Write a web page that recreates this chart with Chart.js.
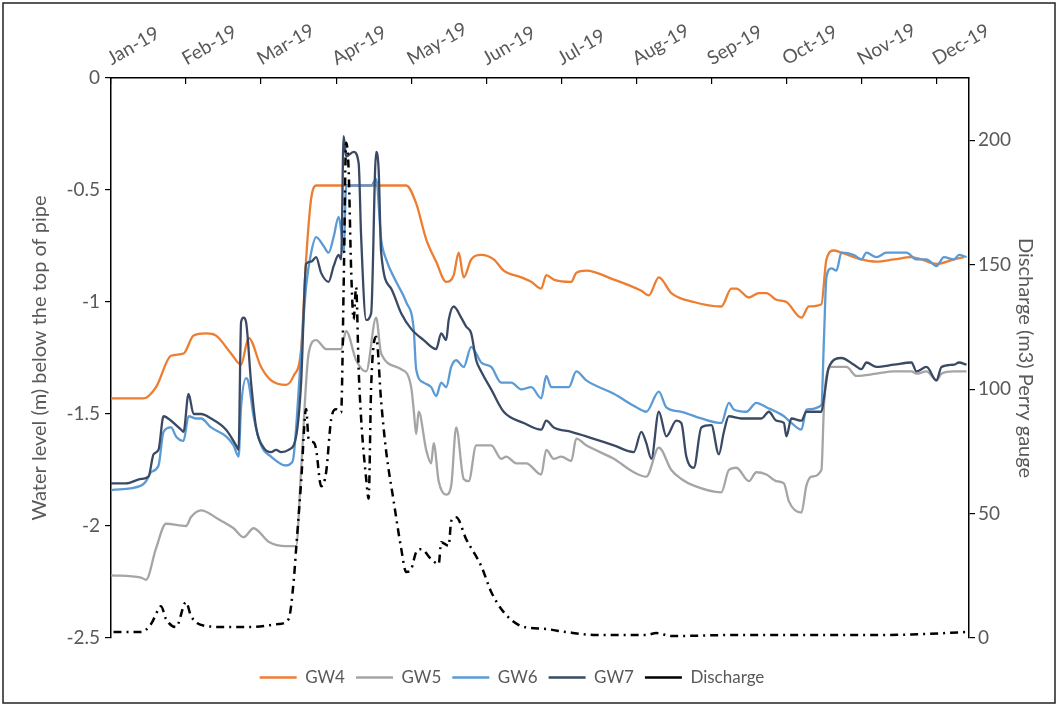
<!DOCTYPE html>
<html>
<head>
<meta charset="utf-8">
<script src="https://cdn.jsdelivr.net/npm/chart.js@4.4.1/dist/chart.umd.min.js"></script>
<style>
  html, body { margin: 0; padding: 0; background: #ffffff; }
  #wrap { position: relative; width: 1058px; height: 706px; }
</style>
</head>
<body>
<div id="wrap"><canvas id="grafico"></canvas></div>
<script>
// Eje X: días desde el 1 de enero, una marca cada 30 días
const months = ["Jan-19", "Feb-19", "Mar-19", "Apr-19", "May-19", "Jun-19",
  "Jul-19", "Aug-19", "Sep-19", "Oct-19", "Nov-19", "Dec-19"];

// [día, nivel (m)]
const gw4 = [[0,-1.43],[13,-1.43],[18,-1.38],[24,-1.24],[29,-1.23],[33,-1.15],[38,-1.14],[42,-1.15],[48,-1.23],[52,-1.28],[55,-1.16],[60,-1.29],[64,-1.35],[70,-1.37],[73,-1.33],[76,-1.21],[78,-0.81],[80,-0.54],[82,-0.48],[118,-0.48],[122,-0.56],[126,-0.72],[130,-0.82],[134,-0.91],[137,-0.88],[139,-0.78],[141,-0.89],[144,-0.81],[148,-0.79],[153,-0.81],[157,-0.86],[164,-0.89],[168,-0.91],[172,-0.94],[174,-0.88],[177,-0.90],[184,-0.91],[186,-0.87],[190,-0.86],[201,-0.90],[212,-0.95],[215,-0.97],[219,-0.89],[224,-0.96],[233,-1.00],[244,-1.02],[248,-0.94],[250,-0.94],[255,-0.98],[259,-0.96],[262,-0.96],[266,-0.99],[270,-1.00],[276,-1.07],[279,-1.02],[284,-1.01],[286,-0.81],[289,-0.77],[292,-0.78],[300,-0.81],[306,-0.82],[313,-0.81],[320,-0.80],[324,-0.81],[330,-0.83],[337,-0.81],[341,-0.80]];

const gw5 = [[0,-2.22],[12,-2.23],[14,-2.24],[18,-2.10],[22,-1.99],[30,-2.00],[32,-1.96],[36,-1.93],[43,-1.97],[49,-2.01],[53,-2.05],[57,-2.01],[63,-2.07],[70,-2.09],[74,-2.09],[76,-1.75],[79,-1.23],[82,-1.17],[86,-1.21],[92,-1.21],[94,-1.13],[98,-1.26],[102,-1.31],[106,-1.07],[108,-1.23],[116,-1.30],[120,-1.38],[121,-1.48],[122,-1.59],[123,-1.49],[126,-1.66],[128,-1.72],[129,-1.63],[131,-1.80],[134,-1.86],[136,-1.82],[138,-1.56],[141,-1.79],[143,-1.80],[146,-1.64],[152,-1.64],[156,-1.70],[158,-1.69],[162,-1.72],[166,-1.72],[172,-1.77],[174,-1.66],[177,-1.70],[180,-1.69],[184,-1.71],[186,-1.61],[190,-1.64],[201,-1.70],[209,-1.76],[214,-1.78],[219,-1.65],[224,-1.75],[228,-1.79],[233,-1.82],[244,-1.85],[247,-1.75],[250,-1.74],[255,-1.80],[258,-1.76],[262,-1.77],[266,-1.80],[269,-1.81],[271,-1.89],[276,-1.94],[278,-1.82],[280,-1.78],[284,-1.75],[285,-1.47],[286,-1.33],[288,-1.29],[294,-1.29],[298,-1.33],[306,-1.32],[313,-1.31],[320,-1.31],[322,-1.32],[326,-1.31],[330,-1.35],[332,-1.32],[337,-1.31],[342,-1.31]];

const gw6 = [[0,-1.84],[12,-1.82],[14,-1.80],[16,-1.76],[19,-1.73],[21,-1.58],[24,-1.56],[26,-1.60],[29,-1.62],[31,-1.51],[34,-1.52],[36,-1.52],[40,-1.56],[46,-1.60],[49,-1.64],[51,-1.69],[52,-1.47],[54,-1.34],[55,-1.36],[57,-1.51],[60,-1.64],[64,-1.69],[70,-1.73],[72,-1.72],[73,-1.69],[76,-1.23],[78,-0.93],[80,-0.78],[82,-0.71],[85,-0.75],[87,-0.78],[89,-0.71],[91,-0.62],[92,-0.68],[93,-0.78],[94,-0.48],[104,-0.48],[106,-0.45],[108,-0.72],[110,-0.81],[114,-0.91],[118,-1.00],[121,-1.12],[122,-1.30],[125,-1.36],[128,-1.38],[130,-1.42],[132,-1.36],[134,-1.38],[136,-1.29],[138,-1.26],[141,-1.29],[144,-1.20],[146,-1.23],[148,-1.27],[152,-1.29],[156,-1.36],[160,-1.36],[164,-1.39],[168,-1.38],[172,-1.43],[174,-1.33],[176,-1.38],[180,-1.38],[183,-1.38],[186,-1.31],[190,-1.35],[201,-1.41],[210,-1.47],[214,-1.49],[219,-1.40],[222,-1.47],[228,-1.49],[236,-1.52],[244,-1.54],[247,-1.45],[249,-1.48],[254,-1.49],[258,-1.45],[262,-1.47],[269,-1.51],[272,-1.54],[276,-1.57],[278,-1.48],[284,-1.46],[285,-1.17],[286,-0.89],[288,-0.85],[290,-0.86],[292,-0.78],[297,-0.79],[300,-0.81],[302,-0.78],[306,-0.80],[310,-0.78],[318,-0.78],[322,-0.81],[326,-0.81],[330,-0.84],[333,-0.80],[337,-0.81],[339,-0.79],[342,-0.80]];

const gw7 = [[0,-1.81],[6,-1.81],[12,-1.79],[15,-1.78],[17,-1.68],[19,-1.66],[21,-1.51],[24,-1.53],[28,-1.57],[29,-1.58],[31,-1.41],[33,-1.50],[36,-1.50],[40,-1.52],[46,-1.57],[50,-1.64],[51,-1.66],[52,-1.09],[53,-1.07],[54,-1.09],[56,-1.36],[58,-1.56],[61,-1.65],[64,-1.67],[66,-1.66],[68,-1.67],[71,-1.66],[74,-1.60],[76,-1.36],[78,-0.83],[80,-0.82],[82,-0.80],[84,-0.87],[87,-0.91],[89,-0.84],[91,-0.79],[92,-0.81],[93,-0.26],[94,-0.35],[97,-0.33],[99,-0.38],[100,-0.71],[102,-1.08],[104,-1.05],[106,-0.33],[107,-0.41],[108,-0.78],[112,-0.94],[116,-1.05],[120,-1.12],[125,-1.17],[130,-1.21],[132,-1.14],[134,-1.17],[135,-1.08],[137,-1.02],[140,-1.07],[142,-1.11],[144,-1.14],[146,-1.26],[148,-1.31],[152,-1.39],[157,-1.49],[165,-1.54],[172,-1.57],[174,-1.53],[177,-1.56],[184,-1.58],[190,-1.60],[201,-1.64],[209,-1.67],[212,-1.58],[214,-1.63],[216,-1.70],[219,-1.49],[222,-1.60],[226,-1.53],[228,-1.54],[230,-1.69],[233,-1.74],[236,-1.56],[240,-1.55],[243,-1.68],[245,-1.58],[247,-1.51],[252,-1.52],[256,-1.52],[260,-1.52],[263,-1.49],[266,-1.53],[269,-1.54],[270,-1.60],[272,-1.52],[276,-1.53],[278,-1.49],[284,-1.49],[285,-1.43],[287,-1.29],[292,-1.25],[297,-1.28],[300,-1.30],[302,-1.27],[306,-1.29],[313,-1.28],[320,-1.27],[322,-1.31],[326,-1.29],[330,-1.35],[332,-1.29],[337,-1.28],[339,-1.27],[342,-1.28]];

// [día, caudal (m3)] en el eje derecho
const discharge = [[1,2.4],[12,2.4],[16,5.6],[19,11.6],[20,12.8],[22,7.6],[26,4.4],[30,14.4],[32,8.8],[38,4.8],[47,4.4],[56,4.4],[67,5.6],[71,7.6],[73,22.5],[74,35.7],[76,62.6],[78,92],[79,80],[81,78.6],[82,75.8],[84,61],[86,66.6],[88,87.8],[90,91.9],[92,90.6],[93,141],[94,199],[95,188],[96,148],[97,128],[98,141],[99,108],[100,88],[102,64],[103,56],[104,101],[106,121],[108,95],[110,75],[113,55],[116,36],[118,26.5],[120,27.7],[122,34.5],[124,35.7],[128,31.7],[131,29.7],[132,38.5],[135,37],[136,46.9],[138,48.5],[142,39.7],[148,28.9],[152,18.5],[157,10.4],[164,4.8],[174,3.6],[182,2.4],[194,1.2],[214,1.2],[218,2],[224,0.8],[250,1.2],[280,1.2],[300,1.2],[320,1.4],[342,2.4]];

const toPoints = (serie) => serie.map(([x, y]) => ({ x, y }));

const GRIS = "#595959";
const fuente = { family: "Lato", size: 19 };
const fuenteTitulo = { family: "Lato", size: 20 };

// Marco exterior y ajuste horizontal de la leyenda
const marco = {
  id: "marco",
  afterLayout(chart) {
    chart.legend.left -= 17;
    chart.legend.right -= 17;
  },
  afterDraw(chart) {
    const c = chart.ctx;
    c.save();
    c.strokeStyle = "#222";
    c.lineWidth = 1.5;
    c.strokeRect(3, 3, chart.width - 6, chart.height - 6);
    c.restore();
  },
};

function linea(label, serie, color, order, extra = {}) {
  return Object.assign({
    label,
    data: toPoints(serie),
    borderColor: color,
    backgroundColor: color,
    borderWidth: 2.3,
    pointRadius: 0,
    cubicInterpolationMode: "monotone",
    yAxisID: "y",
    order,
  }, extra);
}

new Chart(document.getElementById("grafico"), {
  type: "line",
  data: {
    datasets: [
      linea("GW4", gw4, "#ED7D31", 4),
      linea("GW5", gw5, "#A5A5A5", 3),
      linea("GW6", gw6, "#5B9BD5", 2),
      linea("GW7", gw7, "#3A4A64", 1),
      linea("Discharge", discharge, "#000000", 0, {
        yAxisID: "y1",
        borderWidth: 2.5,
        borderDash: [8, 5, 2, 5],
      }),
    ],
  },
  options: {
    responsive: true,
    maintainAspectRatio: false,
    animation: false,
    devicePixelRatio: 1,
    layout: { padding: { bottom: 10 } },
    plugins: {
      tooltip: { enabled: false },
      legend: {
        position: "bottom",
        title: { display: true, text: "", font: { size: 10 }, padding: { top: 8, bottom: 0 } },
        labels: {
          usePointStyle: true,
          pointStyle: "line",
          pointStyleWidth: 37,
          padding: 11,
          color: GRIS,
          font: { family: "Lato", size: 17 },
          sort: (a, b) => a.datasetIndex - b.datasetIndex,
        },
      },
    },
    scales: {
      x: {
        type: "linear",
        position: "top",
        min: 0,
        max: 343,
        afterFit: (s) => { s.height = 78; },
        grid: { drawOnChartArea: false, tickLength: -6, color: "#000", lineWidth: 1.2 },
        border: { color: "#000", width: 1.5 },
        ticks: {
          stepSize: 30,
          includeBounds: false,
          autoSkip: false,
          minRotation: 30,
          maxRotation: 30,
          padding: 14,
          labelOffset: 9,
          color: GRIS,
          font: fuente,
          callback: (v) => months[Math.round(v / 30)],
        },
      },
      y: {
        position: "left",
        min: -2.5,
        max: 0,
        afterFit: (s) => { s.width = 111; },
        grid: { drawOnChartArea: false, tickLength: 6, color: "#000", lineWidth: 1.2 },
        border: { color: "#000", width: 1.5 },
        ticks: { stepSize: 0.5, padding: 5, color: GRIS, font: fuente, callback: (v) => String(v) },
        title: {
          display: true,
          text: "Water level (m) below the top of pipe",
          color: GRIS,
          font: fuenteTitulo,
          padding: { top: 28 },
        },
      },
      y1: {
        position: "right",
        min: 0,
        max: 225,
        afterFit: (s) => { s.width = 89; },
        grid: { drawOnChartArea: false, tickLength: 6, color: "#000", lineWidth: 1.2 },
        border: { color: "#000", width: 1.5 },
        ticks: { stepSize: 50, includeBounds: false, padding: 3, color: GRIS, font: fuente },
        title: {
          display: true,
          text: "Discharge (m3) Perry gauge",
          color: GRIS,
          font: fuenteTitulo,
          padding: { top: 21 },
        },
      },
    },
  },
  plugins: [marco],
});
</script>
</body>
</html>
